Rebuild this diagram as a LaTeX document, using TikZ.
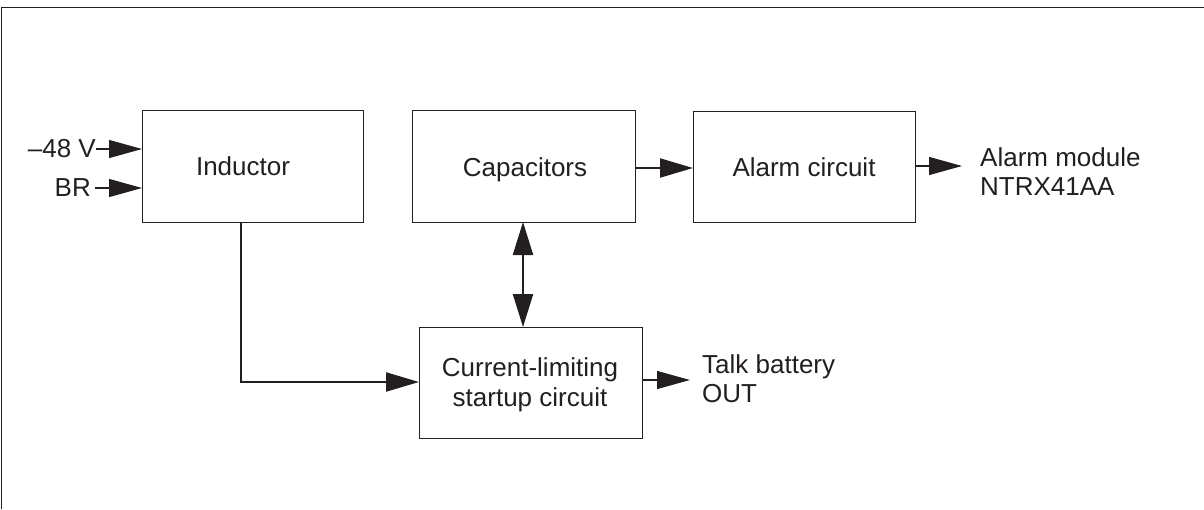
\documentclass[tikz,border=0pt]{standalone}
\usepackage{fontspec}
\setmainfont{Liberation Sans}
\usetikzlibrary{arrows.meta}
\definecolor{ink}{HTML}{231F20}
\tikzset{
  blk/.style={draw=ink, line width=1.1pt, inner sep=0pt, anchor=north west},
  lbl/.style={text=ink, inner sep=0pt, font=\fontsize{26}{29.5}\selectfont},
  thinarrow/.style={draw=ink, line width=1.1pt, -{Triangle[length=33pt,width=18pt]}},
  thickarrow/.style={draw=ink, line width=2.2pt, -{Triangle[length=33pt,width=19pt]}},
}
\begin{document}
\begin{tikzpicture}[x=1pt,y=-1pt]
\useasboundingbox (0,0) rectangle (1204,509);
% frame
\draw[ink, line width=1.1pt] (1.5,509) -- (1.5,7.5) -- (1204,7.5);

% blocks
\node[blk, minimum width=221pt, minimum height=112pt] (ind) at (142,110) {};
\node[blk, minimum width=223pt, minimum height=112pt] (cap) at (412,110) {};
\node[blk, minimum width=222pt, minimum height=111pt] (alm) at (693,111) {};
\node[blk, minimum width=223pt, minimum height=111pt] (cur) at (419,327) {};

\node[lbl, anchor=base] at (243,175.5) {Inductor};
\node[lbl, anchor=base] at (525,176) {Capacitors};
\node[lbl, anchor=base] at (804,176) {Alarm circuit};
\node[lbl, align=center] at (530,385) {Current-limiting\\startup circuit};

% inputs
\node[lbl, anchor=east] (vin) at (96,149) {–48 V};
\node[lbl, anchor=east] (br) at (91,188) {BR};
\draw[thinarrow] (vin.east) -- (ind.west |- vin.east);
\draw[thinarrow] (br.east) ++(4,0) -- (ind.west |- br.east);

% outputs
\node[lbl, anchor=north west, align=left] (amod) at (980,147) {Alarm module\\NTRX41AA};
\node[lbl, anchor=north west, align=left] (talk) at (702,354) {Talk battery\\OUT};
\coordinate (amodin) at (962,166);
\coordinate (talkin) at (690,380);
\draw[thinarrow] (alm.east |- amodin) -- (amodin);
\draw[thinarrow] (cur.east |- talkin) -- (talkin);

% internal connections
\draw[thickarrow] (cap.east |- 0,168) -- (alm.west |- 0,168);
\draw[thickarrow, {Triangle[length=33pt,width=20pt]}-{Triangle[length=33pt,width=20pt]}] (523,222) -- (cur.north -| 523,0);
\coordinate (bend) at (241,382);
\draw[thickarrow] (ind.south -| bend) -- (bend) -- (cur.west |- bend);
\end{tikzpicture}
\end{document}
